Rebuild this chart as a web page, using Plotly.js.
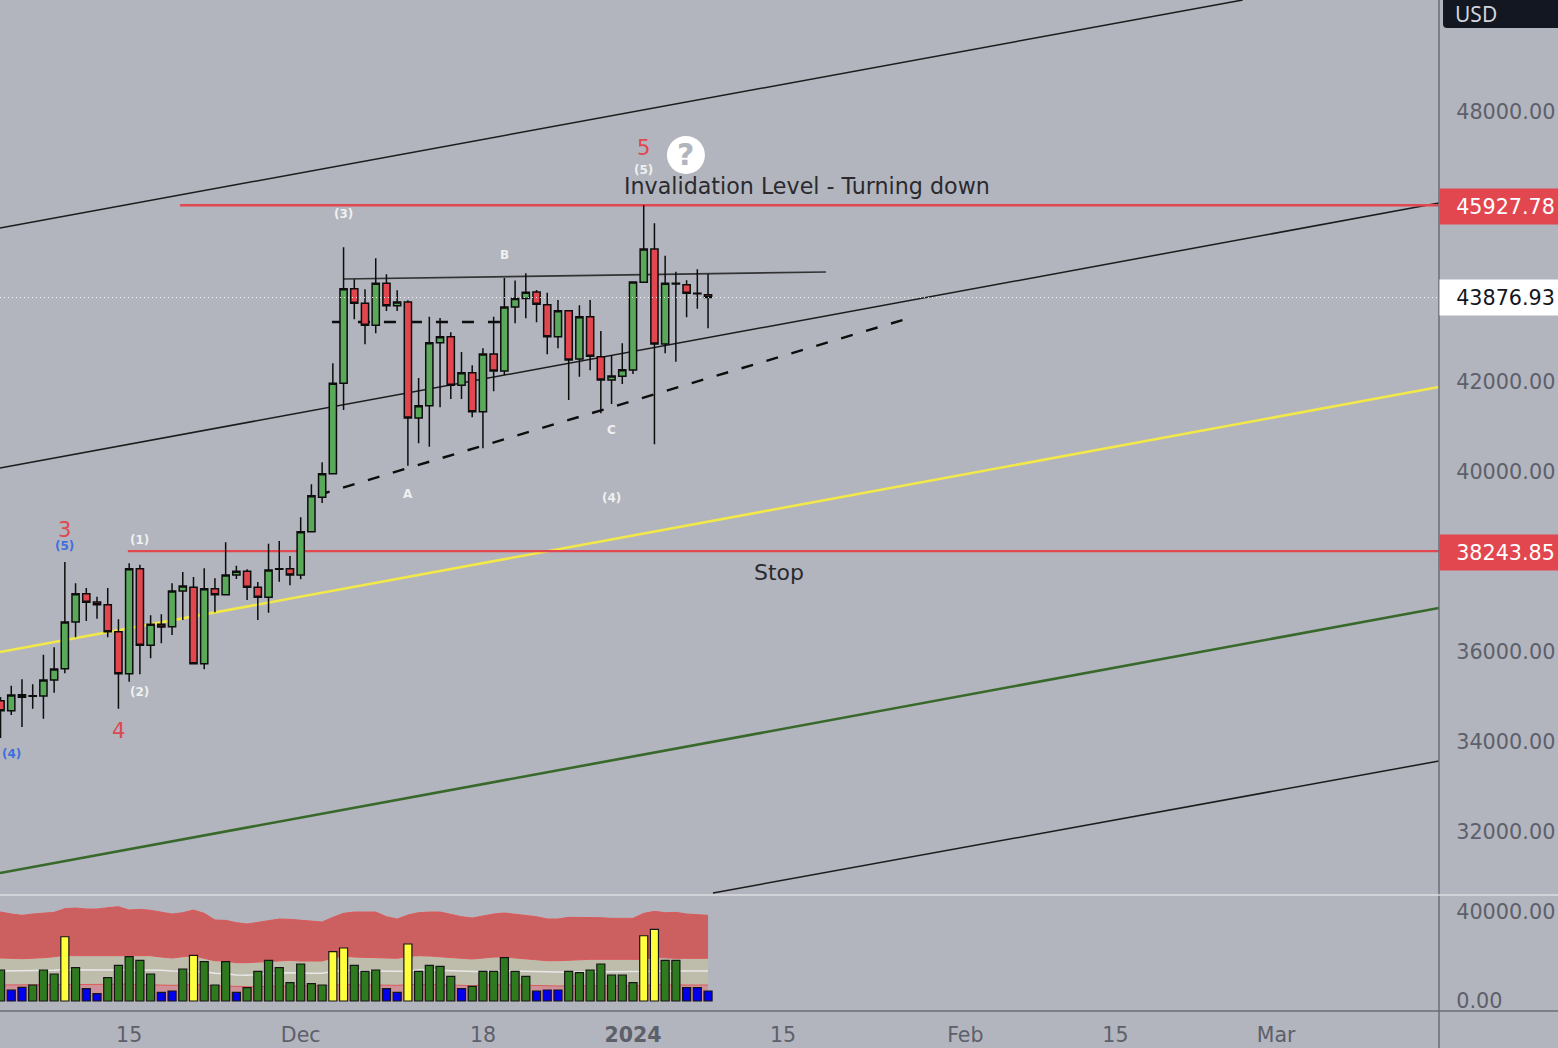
<!DOCTYPE html>
<html><head><meta charset="utf-8">
<script src="https://cdn.plot.ly/plotly-3.0.1.min.js"></script>
<style>html,body{margin:0;padding:0;background:#b2b5be}#c{width:1558px;height:1048px}</style>
</head><body><div id="c"></div>
<script>
const dates=["2023-11-03","2023-11-04","2023-11-05","2023-11-06","2023-11-07","2023-11-08","2023-11-09","2023-11-10","2023-11-11","2023-11-12","2023-11-13","2023-11-14","2023-11-15","2023-11-16","2023-11-17","2023-11-18","2023-11-19","2023-11-20","2023-11-21","2023-11-22","2023-11-23","2023-11-24","2023-11-25","2023-11-26","2023-11-27","2023-11-28","2023-11-29","2023-11-30","2023-12-01","2023-12-02","2023-12-03","2023-12-04","2023-12-05","2023-12-06","2023-12-07","2023-12-08","2023-12-09","2023-12-10","2023-12-11","2023-12-12","2023-12-13","2023-12-14","2023-12-15","2023-12-16","2023-12-17","2023-12-18","2023-12-19","2023-12-20","2023-12-21","2023-12-22","2023-12-23","2023-12-24","2023-12-25","2023-12-26","2023-12-27","2023-12-28","2023-12-29","2023-12-30","2023-12-31","2024-01-01","2024-01-02","2024-01-03","2024-01-04","2024-01-05","2024-01-06","2024-01-07","2024-01-08"];
const open=[34918,34696,35051,35015,35022,35378,35629,36667,37296,37111,37051,36451,35518,37851,36149,36616,36562,37356,37438,35740,37407,37274,37711,37794,37438,37216,37840,37851,37711,38674,39438,39962,41971,44074,43749,43260,44194,43696,43778,41200,41474,42874,43007,41927,42207,41340,42622,42245,43667,43856,44000,43718,43007,43585,42511,43451,42562,42045,42127,42267,44215,44956,42845,44194,44162,43975,43940];
const high=[35000,35251,35394,35282,35940,36105,38000,37527,37422,37229,37422,36727,37971,37940,36816,36838,37527,37778,37667,37860,37638,38438,37918,37838,37556,38407,38467,38134,38994,39727,40216,42416,44993,44282,44060,44749,44393,44038,43816,42089,43451,43422,43105,42667,42371,42749,43451,44311,44256,44416,44045,43985,43822,43585,43705,43822,43134,42593,42860,44222,45928,45527,44807,44451,44260,44505,44400];
const low=[34089,34600,34334,34740,34518,35096,35527,36327,36689,36740,36327,34740,35340,35505,35860,36193,36378,36711,35740,35616,36882,37274,37622,37156,36711,36874,37562,37482,37616,38674,39311,39962,41378,43393,42838,43082,43578,43578,40140,40638,40562,41438,41622,41622,41216,40527,41793,42156,43305,43416,43327,42616,42749,41600,42118,42260,41305,41511,41956,42178,44215,40616,42638,42451,43438,43629,43194];
const close=[34696,35045,34994,35030,35378,35622,36667,37296,37105,37051,36451,35518,37851,36149,36616,36556,37356,37467,35740,37407,37274,37711,37794,37438,37216,37822,37851,37711,38674,39474,39962,41971,44074,43749,43260,44194,43696,43778,41200,41474,42874,43007,41927,42207,41340,42622,42245,43667,43856,43994,43727,43007,43585,42489,43451,42571,42045,42134,42274,44222,44956,42845,44194,44180,43971,43960,43877];
const volume=[13932,4943,6157,7190,13932,12134,28896,14965,5528,3281,10471,16044,19908,18291,12134,3910,4494,14381,20538,17661,7190,17661,3910,5977,13347,18291,14965,8224,16628,7775,7190,22155,23818,16044,13347,13932,5528,3910,25616,13347,16044,15594,11100,5528,6606,13347,13347,19459,13347,11100,4494,4943,4943,13347,12718,13932,16628,11684,11684,8224,29346,32222,18291,18291,5977,5977,4494];
const volumeKind=["g","b","b","g","g","g","y","g","b","b","g","g","g","g","g","b","b","g","y","g","g","g","b","g","g","g","g","g","g","g","g","y","y","g","g","g","b","b","y","g","g","g","g","b","g","g","g","g","g","g","b","b","b","g","g","g","g","g","g","g","y","y","g","g","b","b","b"];
const bandDates=["2023-11-02"].concat(dates);
const bandTop=[40200,39996,39098,38498,39098,39397,39846,41494,41794,41344,41344,41944,42393,40895,41195,40745,39996,39098,39697,40895,39397,36401,36251,35203,34603,35352,36401,36850,36701,36401,36101,35502,37599,39397,39996,39996,39996,37899,36850,38648,39697,39996,39996,38948,37899,37300,38199,39098,39547,38948,38348,37899,36850,36850,37599,37599,37300,37450,37150,37150,37150,39397,40296,39697,39846,39098,38648,38498];
const bandUpper=[19500,19474,19174,19024,19174,19474,19923,20522,20372,20372,20372,20372,20672,20372,20372,20372,19773,19324,19923,20372,19174,18125,17976,17227,17227,17526,17976,17976,18275,17976,17976,17976,19324,20223,19773,19624,19624,19174,19174,20073,20372,20223,19923,19474,19174,18874,19324,19773,19773,19324,19174,18725,18125,18125,18425,18425,18725,18725,18725,18725,18425,18725,19624,19324,19174,19174,19174,19174];
const bandMid=[13482,13482,13482,13482,13482,13482,13781,14081,13931,13931,13931,13931,13931,13931,13931,13931,13781,13482,13482,13482,13182,12433,12283,11684,11534,11983,12433,12583,12733,12433,12433,12433,13182,13931,13631,13482,13482,13482,13332,13482,13931,13931,13781,13631,13332,13182,13182,13332,13482,13482,13332,13182,13032,12882,12882,13032,13032,13032,13032,13032,13032,13032,13332,13482,13482,13482,13482,13482];
const bandLower=[7190,7190,7190,7340,7190,7190,7340,7490,7490,7490,7490,7490,7639,7490,7490,7490,7190,7040,7190,7490,7190,6741,6741,6441,6441,6441,6741,6741,6741,6741,6741,6741,7040,7490,7190,7190,7190,7040,7040,7340,7490,7490,7340,7190,7040,6890,7190,7340,7340,7190,7040,6890,6741,6741,6890,6890,6890,6890,6890,6890,6741,6890,7340,7190,7190,7190,7190,7190];

const rangeX=["2023-11-02 22:48","2024-03-16 04:30"];
const priceRange=[30600,50489];
const volumeRange=[-4494,47636];
const priceTicks=[32000,34000,36000,38000,40000,42000,48000];
const priceTickText=["32000.00","34000.00","36000.00","38000.00","40000.00","42000.00","48000.00"];
const volumeTicks=[0,40000];
const volumeTickText=["0.00","40000.00"];
const timeTicks=["2023-11-15","2023-12-01","2023-12-18","2024-01-01","2024-01-15","2024-02-01","2024-02-15","2024-03-01"];
const timeTickText=["15","Dec","18","<b>2024</b>","15","Feb","15","Mar"];

const upperChannelX=["2023-11-02 22:48","2024-02-26 21:00"], upperChannelY=[45422,50489];
const midChannelY=[40089,45978], yellowChannelY=[36000,41889], greenChannelY=[31089,36978];
const lowerChannelX=["2024-01-08 11:00","2024-03-16 04:30"], lowerChannelY=[30645,33578];
const invalidationX=["2023-11-19 18:00","2024-03-16 04:30"], invalidationY=[45927.78,45927.78];
const stopX=["2023-11-14 21:00","2024-03-16 04:30"], stopY=[38243.85,38243.85];
const triangleTopX=["2023-12-04 23:00","2024-01-19 00:00"], triangleTopY=[44289,44445];
const triangleLowX=["2023-12-02 15:00","2024-01-26 11:00"], triangleLowY=[39489,43400];
const neckX=["2023-12-03 22:00","2023-12-19 14:00"], neckY=[43333,43333];
const lastPrice=43876.93;

const waveText=["3","(5)","(1)","(2)","4","(4)","(3)","A","B","C","(4)","5","(5)"];
const waveX=["2023-11-09","2023-11-09","2023-11-16","2023-11-16","2023-11-14","2023-11-04","2023-12-05","2023-12-11","2023-12-20","2023-12-30","2023-12-30","2024-01-02","2024-01-02"];
const waveY=[38711,38356,38489,35111,34245,33733,45733,39511,44822,40933,39422,47200,46711];
const waveColor=["#e0474f","#3f6fe0","#f0f0f0","#f0f0f0","#e0474f","#3f6fe0","#f0f0f0","#f0f0f0","#f0f0f0","#f0f0f0","#f0f0f0","#e0474f","#f0f0f0"];
const waveSize=[21,12,12,12,21,12,12,12,12,12,12,21,12];

const UI="DejaVu Sans, sans-serif", AXC="#5d606b", RED="#e2474f";
const ink="#0d0d0d";
const ln=(x,y,color,width,dash,ya)=>({type:"scatter",mode:"lines",x,y,xaxis:"x",yaxis:ya||"y",hoverinfo:"skip",showlegend:false,line:{color,width,dash:dash||"solid"}});

const kindColor={g:"#2f7a1f",b:"#0000ee",y:"#ffff3c"};
const data=[
 ln(upperChannelX,upperChannelY,"#1c1c1c",1.5),
 ln(rangeX,midChannelY,"#1c1c1c",1.5),
 ln(rangeX,yellowChannelY,"#f2e84a",2.6),
 ln(rangeX,greenChannelY,"#38692b",2.6),
 ln(lowerChannelX,lowerChannelY,"#1c1c1c",1.5),
 ln(triangleTopX,triangleTopY,"#333333",1.7),
 ln(triangleLowX,triangleLowY,"#0d0d0d",2.4,"12px,14px"),
 ln(neckX,neckY,"#0d0d0d",2.4,"12px,14px"),
 ln(invalidationX,invalidationY,RED,2.3),
 ln(stopX,stopY,RED,2.3),
 {type:"scatter",mode:"markers",x:["2024-01-05 22:30"],y:[47045],xaxis:"x",yaxis:"y",hoverinfo:"skip",showlegend:false,marker:{size:38,color:"#ffffff",line:{width:0}}},
 {type:"candlestick",x:dates,open,high,low,close,xaxis:"x",yaxis:"y3",hoverinfo:"skip",showlegend:false,whiskerwidth:0,
  increasing:{fillcolor:"#5aa95a",line:{color:ink,width:1.5}},
  decreasing:{fillcolor:"#e2474f",line:{color:ink,width:1.5}}},
 ln(rangeX,[lastPrice,lastPrice],"#f4f4f4",1,"1px,3px","y3"),
 {type:"scatter",mode:"lines",x:bandDates,y:bandLower,xaxis:"x2",yaxis:"y2",fill:"tozeroy",fillcolor:"#cd9197",line:{color:"#dc5a5a",width:1},hoverinfo:"skip",showlegend:false},
 {type:"scatter",mode:"lines",x:bandDates,y:bandUpper,xaxis:"x2",yaxis:"y2",fill:"tonexty",fillcolor:"#bebdac",line:{color:"#dc5a5a",width:1},hoverinfo:"skip",showlegend:false},
 {type:"scatter",mode:"lines",x:bandDates,y:bandTop,xaxis:"x2",yaxis:"y2",fill:"tonexty",fillcolor:"#cc5f60",line:{color:"#dc5a5a",width:1},hoverinfo:"skip",showlegend:false},
 {type:"scatter",mode:"lines",x:bandDates,y:bandMid,xaxis:"x2",yaxis:"y2",line:{color:"#e8e8e8",width:1.5},hoverinfo:"skip",showlegend:false},
 {type:"bar",x:dates,y:volume,xaxis:"x2",yaxis:"y4",hoverinfo:"skip",showlegend:false,marker:{color:volumeKind.map(k=>kindColor[k]),line:{color:"#151515",width:1.2}}}
];

const annotations=waveText.map((t,i)=>({x:waveX[i],y:waveY[i],xref:"x",yref:"y",text:waveSize[i]>12?t:"<b>"+t+"</b>",showarrow:false,
  font:{family:UI,size:waveSize[i],color:waveColor[i]}}));
annotations.push(
 {x:"2024-01-05 22:30",y:47045,xref:"x",yref:"y",text:"<b>?</b>",showarrow:false,font:{family:UI,size:30,color:"#b2b5be"}},
 {x:"2024-01-17 05:00",y:46356,xref:"x",yref:"y",text:"Invalidation Level - Turning down",showarrow:false,font:{family:UI,size:22.2,color:"#2a2a2e"}},
 {x:"2024-01-14 15:00",y:37778,xref:"x",yref:"y",text:"Stop",showarrow:false,font:{family:UI,size:22,color:"#2a2a2e"}},
 {x:1,y:45927.78,xref:"paper",yref:"y",yshift:-1,xanchor:"left",width:119,height:35,borderpad:0,bgcolor:RED,align:"right",text:"45927.78\u2009",showarrow:false,font:{family:UI,size:20.7,color:"#ffffff"}},
 {x:1,y:38243.85,xref:"paper",yref:"y",yshift:-1,xanchor:"left",width:119,height:35,borderpad:0,bgcolor:RED,align:"right",text:"38243.85\u2009",showarrow:false,font:{family:UI,size:20.7,color:"#ffffff"}},
 {x:1,y:lastPrice,xref:"paper",yref:"y",xanchor:"left",width:119,height:35,borderpad:0,bgcolor:"#ffffff",align:"right",text:"43876.93\u2009",showarrow:false,font:{family:UI,size:20.7,color:"#131722"}},
 {x:1.0097,y:0.9865,xref:"paper",yref:"paper",xanchor:"left",yanchor:"middle",text:"USD",showarrow:false,font:{family:"Noto Sans, sans-serif",size:21,color:"#d1d4dc"}}
);

const base={showgrid:false,zeroline:false};
const layout={
 width:1558,height:1048,paper_bgcolor:"#b2b5be",plot_bgcolor:"#b2b5be",
 margin:{l:0,r:119,t:0,b:37,pad:0},showlegend:false,hovermode:false,bargap:0.25,boxgap:0.15,boxgroupgap:0.21,
 xaxis:{...base,type:"date",domain:[0,1],anchor:"y",range:rangeX,rangeslider:{visible:false},showticklabels:false,ticks:"",showline:false},
 xaxis2:{...base,type:"date",domain:[0,1],anchor:"y2",range:rangeX,tickmode:"array",tickvals:timeTicks,ticktext:timeTickText,ticks:"outside",ticklen:5,tickcolor:"rgba(0,0,0,0)",tickangle:0,tickfont:{family:UI,size:20.5,color:AXC},showline:false},
 yaxis:{...base,domain:[0.1147,1],anchor:"x",side:"right",range:priceRange,tickmode:"array",tickvals:priceTicks,ticktext:priceTickText,ticks:"outside",ticklen:12,tickcolor:"rgba(0,0,0,0)",tickfont:{family:UI,size:20.8,color:AXC},showline:false},
 yaxis2:{...base,domain:[0,0.1147],anchor:"x2",side:"right",range:volumeRange,tickmode:"array",tickvals:volumeTicks,ticktext:volumeTickText,ticks:"outside",ticklen:12,tickcolor:"rgba(0,0,0,0)",tickfont:{family:UI,size:20.8,color:AXC},showline:false},
 yaxis3:{...base,overlaying:"y",anchor:"x",side:"right",range:priceRange,visible:false},
 yaxis4:{...base,overlaying:"y2",anchor:"x2",side:"right",range:volumeRange,visible:false},
 shapes:[
  {type:"line",xref:"paper",yref:"paper",x0:1,x1:1,y0:-0.0366,y1:1,line:{color:"#6a6d78",width:1.5},layer:"above"},
  {type:"line",xref:"paper",yref:"paper",x0:0,x1:1.0827,y0:0.1147,y1:0.1147,line:{color:"#dcdee2",width:1.5},layer:"above"},
  {type:"line",xref:"paper",yref:"paper",x0:0,x1:1.0827,y0:0,y1:0,line:{color:"#6a6d78",width:1.7},layer:"above"},
  {type:"path",xref:"paper",yref:"paper",path:"M 1.0028,1 L 1.0028,0.9763 Q 1.0028,0.9723 1.0056,0.9723 L 1.0827,0.9723 L 1.0827,1 Z",fillcolor:"#131722",line:{width:0},layer:"above"}
 ],
 annotations
};
Plotly.newPlot("c",data,layout,{staticPlot:true,displayModeBar:false});
</script></body></html>
